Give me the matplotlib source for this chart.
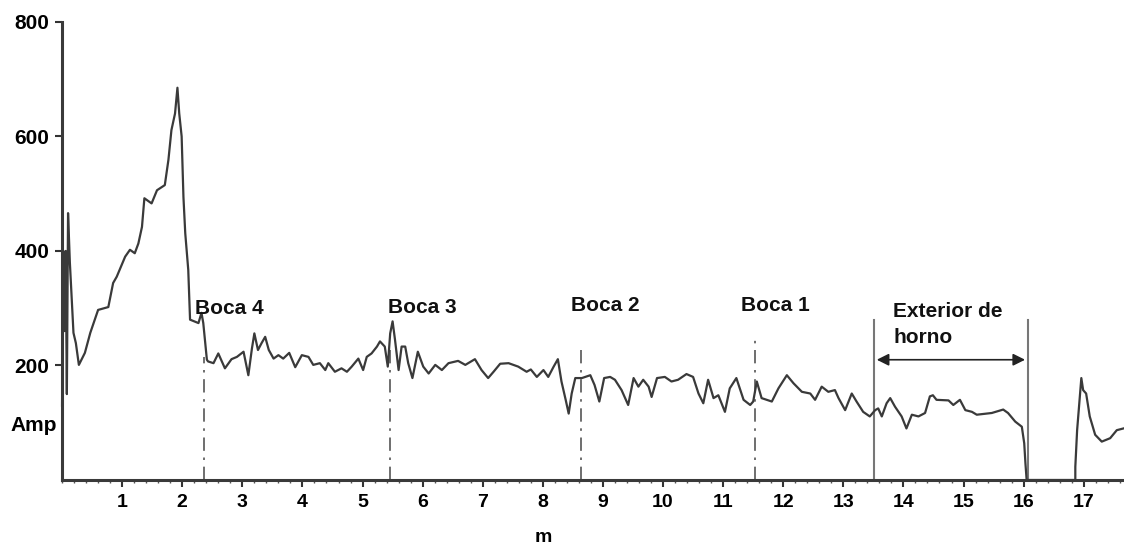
import matplotlib.pyplot as plt
from matplotlib.ticker import MultipleLocator

plt.rcParams['font.family'] = ['Liberation Sans', 'DejaVu Sans']
plt.rcParams['font.weight'] = 'bold'

# signal (distance in m, amplitude)
dist = [0.00, 0.02, 0.04, 0.06, 0.08, 0.10, 0.13, 0.16, 0.19, 0.23, 0.28, 0.38, 0.47, 0.60,
        0.77, 0.85, 0.91, 1.05, 1.13, 1.21, 1.27, 1.33, 1.37, 1.49, 1.58, 1.71, 1.77, 1.82,
        1.88, 1.92, 1.95, 1.99, 2.02, 2.05, 2.10, 2.13, 2.27, 2.32, 2.35, 2.41, 2.43, 2.52,
        2.60, 2.71, 2.82, 2.91, 3.02, 3.10, 3.16, 3.20, 3.26, 3.32, 3.38, 3.44, 3.52, 3.60,
        3.68, 3.78, 3.88, 3.99, 4.10, 4.18, 4.29, 4.38, 4.43, 4.54, 4.65, 4.74, 4.82, 4.93,
        5.01, 5.07, 5.15, 5.24, 5.29, 5.37, 5.42, 5.46, 5.50, 5.54, 5.60, 5.65, 5.71, 5.76,
        5.83, 5.92, 6.01, 6.10, 6.21, 6.32, 6.43, 6.59, 6.71, 6.87, 6.98, 7.09, 7.18, 7.29,
        7.43, 7.59, 7.73, 7.80, 7.90, 8.01, 8.09, 8.18, 8.25, 8.31, 8.38, 8.43, 8.48, 8.54,
        8.65, 8.79, 8.86, 8.94, 9.02, 9.12, 9.20, 9.31, 9.42, 9.51, 9.59, 9.67, 9.76, 9.81,
        9.90, 10.03, 10.14, 10.25, 10.39, 10.50, 10.59, 10.67, 10.75, 10.84, 10.92, 11.03,
        11.11, 11.22, 11.34, 11.45, 11.50, 11.56, 11.64, 11.81, 11.92, 12.06, 12.17, 12.31,
        12.45, 12.53, 12.64, 12.75, 12.86, 12.92, 13.03, 13.14, 13.22, 13.33, 13.44, 13.53,
        13.58, 13.64, 13.72, 13.78, 13.86, 13.97, 14.05, 14.14, 14.25, 14.36, 14.44, 14.49,
        14.55, 14.75, 14.83, 14.94, 15.03, 15.14, 15.22, 15.47, 15.66, 15.74, 15.86, 15.97,
        16.01, 16.03, 16.05, 16.86, 16.86, 16.89, 16.93, 16.96, 16.99, 17.04, 17.10, 17.19,
        17.30, 17.44, 17.55, 17.66]
amp = [130, 400, 260, 400, 150, 466, 380, 320, 257, 239, 201, 222, 257, 297,
       302, 344, 355, 390, 402, 396, 413, 442, 492, 483, 506, 515, 559, 611,
       640, 685, 640, 600, 494, 431, 367, 280, 274, 292, 274, 210, 207, 204,
       221, 195, 211, 215, 224, 183, 230, 256, 227, 239, 250, 227, 212, 218,
       212, 222, 197, 218, 215, 201, 204, 192, 204, 189, 195, 189, 198, 212,
       192, 215, 221, 233, 242, 233, 198, 256, 277, 245, 192, 233, 233, 204,
       178, 224, 198, 186, 201, 192, 204, 208, 201, 211, 192, 178, 189, 203,
       204, 198, 189, 193, 180, 192, 180, 198, 211, 172, 140, 116, 151, 178,
       178, 183, 166, 137, 178, 180, 175, 157, 131, 178, 163, 175, 163, 145,
       178, 180, 172, 175, 185, 180, 151, 134, 175, 143, 148, 119,
       160, 178, 140, 131, 137, 172, 143, 137, 160, 183, 169, 154,
       151, 140, 163, 154, 157, 143, 122, 151, 137, 119, 111, 122,
       125, 111, 134, 143, 128, 111, 90, 114, 111, 117, 146, 148,
       140, 139, 131, 140, 122, 119, 114, 117, 123, 117, 102, 93,
       64, 29, 0, 0, 23, 87, 140, 178, 157, 151, 111, 79,
       67, 73, 87, 90]

xticks = list(range(1, 18))
yticks = [200, 400, 600, 800]

bocas = ['Boca 4', 'Boca 3', 'Boca 2', 'Boca 1']
boca_x = [2.36, 5.46, 8.64, 11.53]
boca_top = [215, 230, 235, 250]
boca_label_x = [2.21, 5.42, 8.47, 11.30]
boca_label_y = [299, 302, 304, 304]

exterior = [13.51, 16.07]

fig = plt.figure(figsize=(11.24, 5.47), dpi=100)
ax = fig.add_axes([0.0552, 0.1225, 0.9448, 0.8375])

ax.plot(dist, amp, color='#3a3a3a', lw=1.6, zorder=3, clip_on=False)

for bx, top in zip(boca_x, boca_top):
    ax.plot([bx, bx], [0, top], color='#555555', lw=1.2, ls=(0, (8, 4, 1.5, 4)), zorder=2)
for name, lx, ly in zip(bocas, boca_label_x, boca_label_y):
    ax.text(lx, ly, name, fontsize=15, fontweight='bold', ha='left', va='center', color='#111111')

for ex in exterior:
    ax.plot([ex, ex], [0, 280], color='#777777', lw=1.5, zorder=2)
ax.annotate('', xy=(exterior[0], 210), xytext=(exterior[1], 210),
            arrowprops=dict(arrowstyle='<|-|>', color='#222222', lw=1.2, mutation_scale=18))
ax.text(13.83, 295, 'Exterior de', fontsize=15, fontweight='bold', ha='left', va='center', color='#111111')
ax.text(13.83, 248, 'horno', fontsize=15, fontweight='bold', ha='left', va='center', color='#111111')

ax.set_xlim(0, 17.67)
ax.set_ylim(0, 800)
ax.set_xticks(xticks)
ax.set_yticks(yticks)
ax.xaxis.set_minor_locator(MultipleLocator(0.2))
ax.tick_params(axis='x', which='major', length=5, width=1.5, labelsize=14, pad=5, color='#333333')
ax.tick_params(axis='x', which='minor', length=2, width=1, color='#555555')
ax.tick_params(axis='y', which='major', length=5, width=1.5, labelsize=15, pad=4, color='#333333')
for lab in ax.get_xticklabels() + ax.get_yticklabels():
    lab.set_fontweight('bold')

for side in ['top', 'right']:
    ax.spines[side].set_visible(False)
for side in ['left', 'bottom']:
    ax.spines[side].set_linewidth(2.2)
    ax.spines[side].set_color('#3a3a3a')
ax.spines['bottom'].set_zorder(4)

ax.text(-0.08, 96, 'Amp', fontsize=15, fontweight='bold', ha='right', va='center', clip_on=False)
ax.text(8.0, -100, 'm', fontsize=14, fontweight='bold', ha='center', va='center', clip_on=False)

fig.savefig('out.png', dpi=100)
